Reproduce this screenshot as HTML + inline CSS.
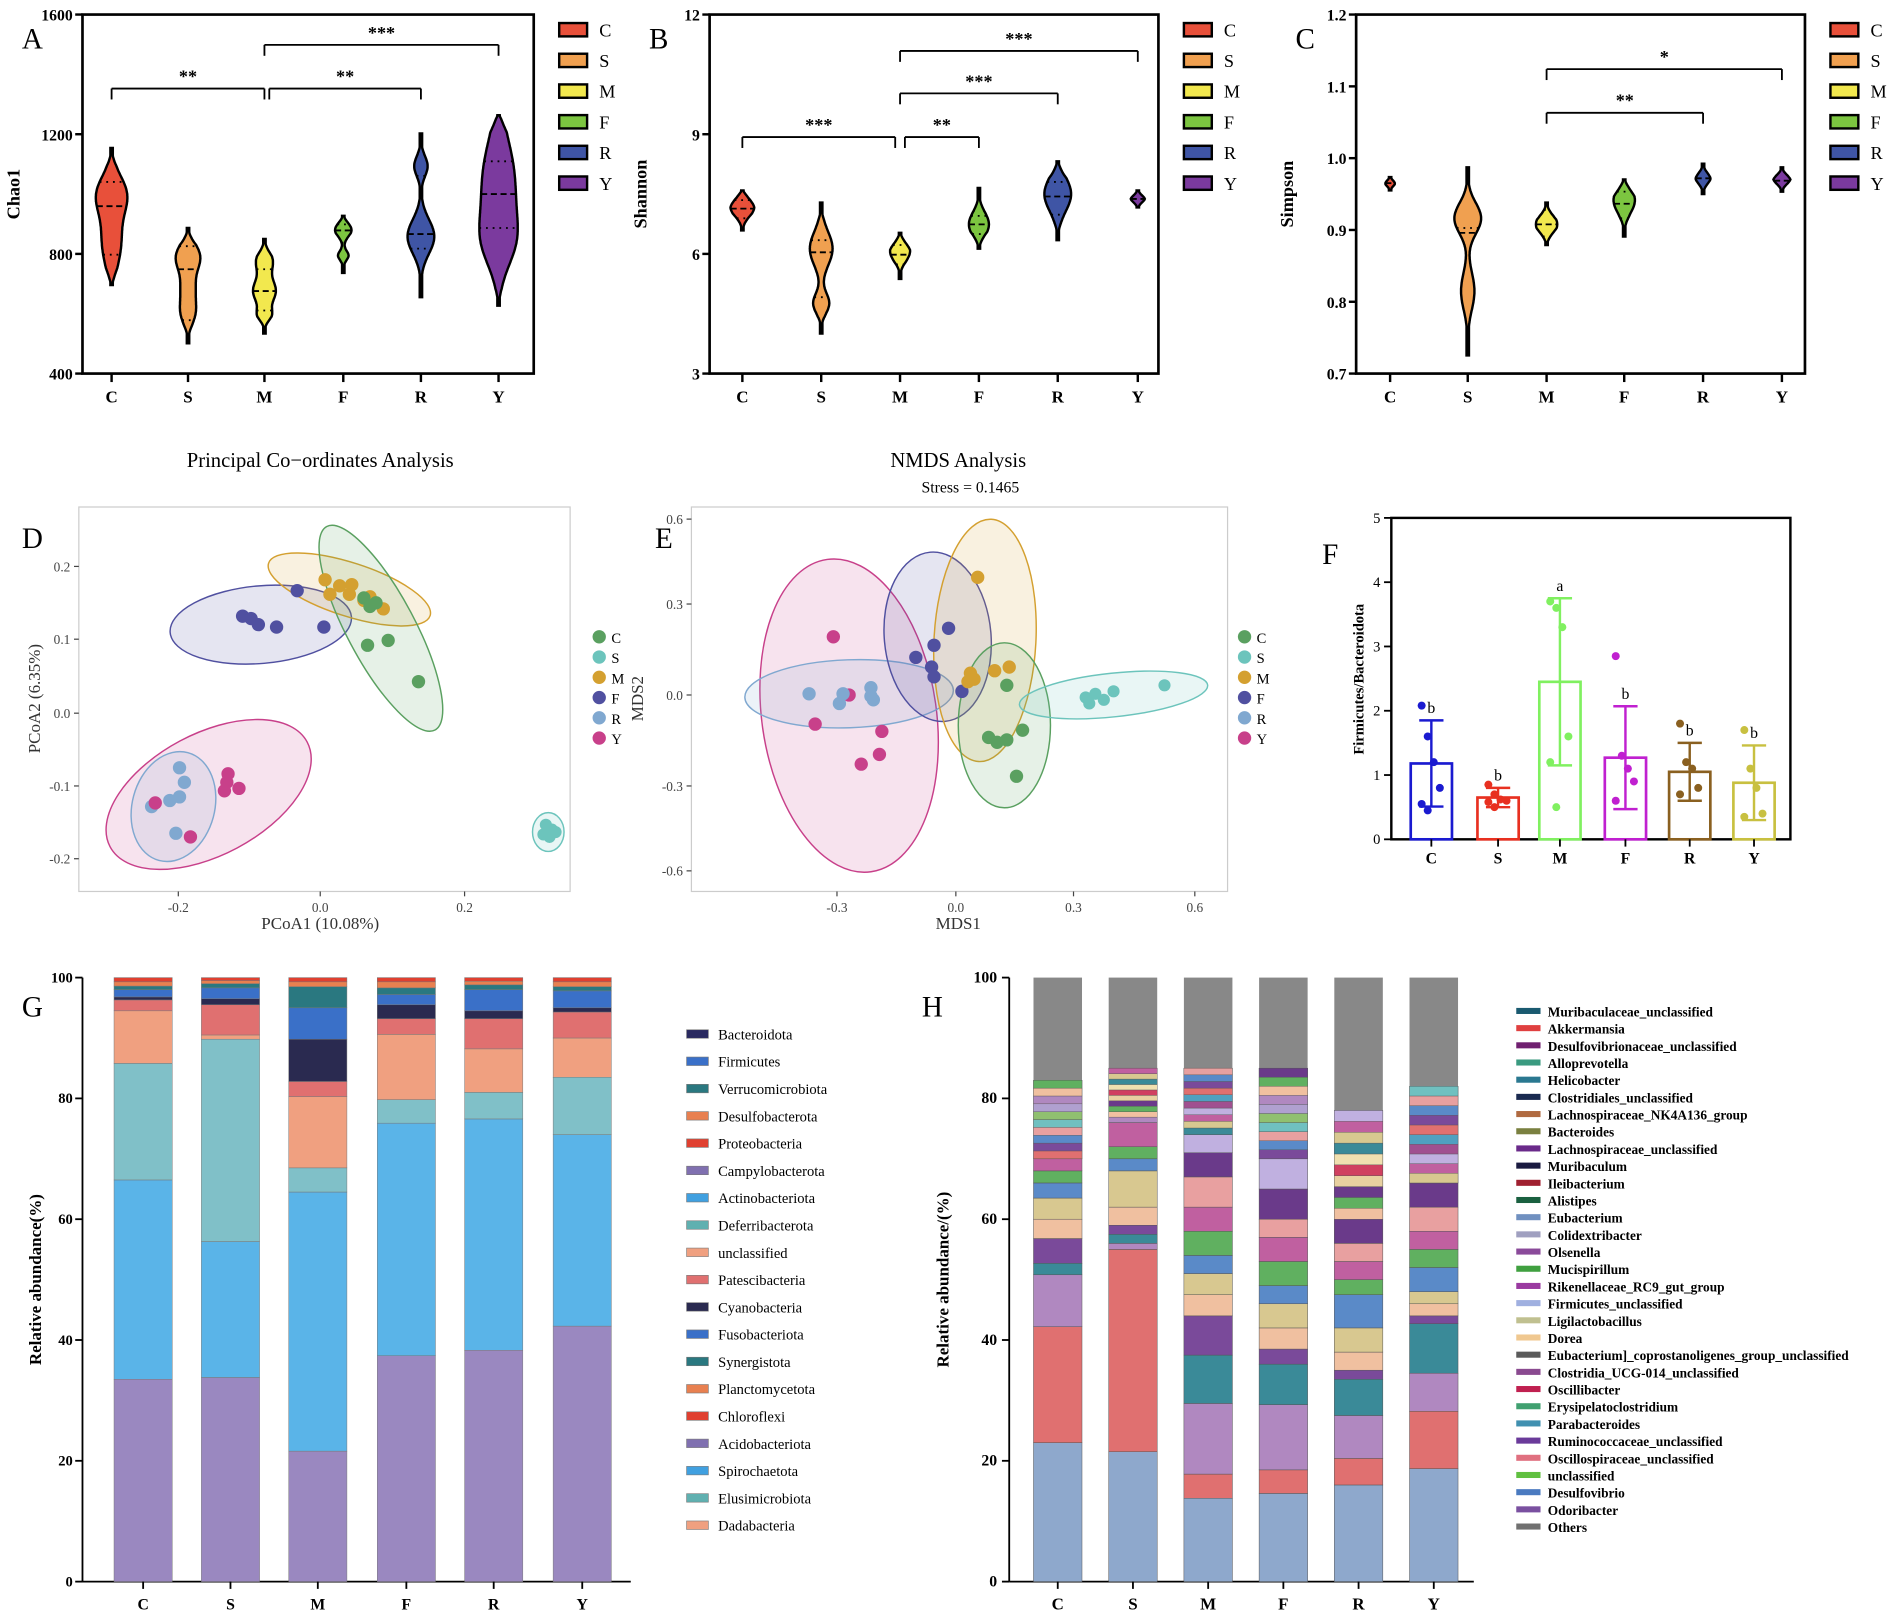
<!DOCTYPE html>
<html><head><meta charset="utf-8">
<style>
html,body{margin:0;padding:0;background:#fff;}
svg{display:block;}
text{font-family:"Liberation Serif",serif;}
</style></head>
<body>
<svg id="s" width="1902" height="1618" viewBox="0 0 1568 1334" preserveAspectRatio="none" xmlns="http://www.w3.org/2000/svg"></svg>
<script>
const S=document.getElementById('s');let out='';
function T(x,y,t,o){o=o||{};out+=`<text x="${x}" y="${y}" font-size="${o.fs||13}" ${o.b?'font-weight="bold"':''} text-anchor="${o.a||'middle'}" fill="${o.c||'#000'}" ${o.tr?`transform="${o.tr}"`:''}>${t}</text>`;}
function L(x1,y1,x2,y2,c,w,d){out+=`<line x1="${x1}" y1="${y1}" x2="${x2}" y2="${y2}" stroke="${c||'#000'}" stroke-width="${w||1}" ${d?`stroke-dasharray="${d}"`:''}/>`;}
function R(x,y,w,h,f,s,sw){out+=`<rect x="${x}" y="${y}" width="${w}" height="${h}" fill="${f}" ${s?`stroke="${s}" stroke-width="${sw||1}"`:''}/>`;}
function C(x,y,r,f){out+=`<circle cx="${x}" cy="${y}" r="${r}" fill="${f}"/>`;}
function E(cx,cy,rx,ry,rot,f,s){out+=`<ellipse cx="${cx}" cy="${cy}" rx="${rx}" ry="${ry}" transform="rotate(${rot} ${cx} ${cy})" fill="${f}" fill-opacity="0.15" stroke="${s}" stroke-width="1.2"/>`;}
const cols=['#e8503a','#f0a050','#f2e84e','#7cc540','#3f55a5','#7b3a9e'];
const grp=['C','S','M','F','R','Y'];
function violin(cx,top,bot,bumps,col,med,q1,q2){
 const hw=y=>{let w=0;for(const b of bumps)w+=0.55*b[1]*Math.exp(-Math.pow((y-b[0])/b[2],2));const e=Math.min(1,(y-top)/14,(bot-y)/14);return Math.max(w*Math.sqrt(Math.max(e,0)),1);};
 let l=[],r=[];
 for(let y=top;y<=bot;y+=1){const w=hw(y);l.push([cx-w,y]);r.push([cx+w,y]);}
 let p='M'+l.map(a=>a[0].toFixed(1)+','+a[1]).join('L')+'L'+r.reverse().map(a=>a[0].toFixed(1)+','+a[1]).join('L')+'Z';
 out+=`<path d="${p}" fill="${col}" stroke="#000" stroke-width="2"/>`;
 if(med)L(cx-hw(med),med,cx+hw(med),med,'#000',1.5,'5,3');
 for(const q of [q1,q2])if(q)L(cx-hw(q),q,cx+hw(q),q,'#000',1.5,'1.5,4');
}
function panelV(x0,x1,ticks,xs,letter,ylab,vs,br){
 R(x0,12,x1-x0,296,'none','#000',2.2);
 ticks.forEach((t,i)=>{const y=308-i*296/(ticks.length-1);L(x0-6,y,x0,y,'#000',2);T(x0-8,y+5,t,{a:'end',b:1,fs:13});});
 xs.forEach((x,i)=>{L(x,308,x,315,'#000',2);T(x,332,grp[i],{b:1,fs:14});});
 T(x0-50,40,letter,{a:'start',fs:24});
 T(x0-52,160,ylab,{b:1,fs:15,tr:`rotate(-90 ${x0-52} 160)`});
 vs.forEach((v,i)=>violin(xs[i],v[0],v[1],v[2],cols[i],v[3],v[4],v[5]));
 br.forEach(b=>{L(b[0],b[2],b[1],b[2],'#000',1.5);L(b[0],b[2],b[0],b[2]+9,'#000',1.5);L(b[1],b[2],b[1],b[2]+9,'#000',1.5);T((b[0]+b[1])/2,b[2]-5,b[3],{b:1,fs:15});});
 grp.forEach((g,i)=>{R(x1+21,19+i*25.3,23,11,cols[i],'#000',2);T(x1+54,30+i*25.3,g,{a:'start',fs:15});});
}
const xA=[92,155,218,283,347,411];
panelV(68,440,[400,800,1200,1600],xA,'A','Chao1',[
 [122,235,[[160,21,22],[200,14,30]],170,150,210],
 [188,283,[[212,18,16],[258,10,14],[238,9,15]],222,203,264],
 [197,275,[[215,12,12],[240,17,14],[260,9,8]],240,222,256],
 [178,225,[[188,14,9],[211,8,6]],190,185,200],
 [110,245,[[137,10,12],[195,20,20]],193,145,205],
 [95,252,[[150,24,50],[200,18,30]],160,133,188]
],[[92,218,73,'**'],[222,347,73,'**'],[218,411,37,'***']]);
const xB=[612,677,742,807,872,938];
panelV(585,955,[3,6,9,12],xB,'B','Shannon',[
 [157,190,[[170,18,13]],172,165,180],
 [167,275,[[205,17,20],[250,12,12]],208,198,245],
 [192,230,[[207,15,12]],210,202,218],
 [155,205,[[185,15,14]],185,178,193],
 [133,198,[[160,20,20]],162,150,177],
 [157,171,[[164,15,6]],164,0,0]
],[[612,738,113,'***'],[746,807,113,'**'],[742,872,77,'***'],[742,938,42,'***']]);
const xC=[1146,1210,1275,1339,1404,1469];
panelV(1118,1488,['0.7','0.8','0.9','1.0','1.1','1.2'],xC,'C','Simpson',[
 [146,157,[[151,12,5]],151,0,0],
 [138,293,[[180,20,18],[240,10,22]],192,188,0],
 [167,202,[[185,16,12]],185,173,195],
 [148,195,[[165,16,15]],168,158,180],
 [135,160,[[147,12,8]],147,0,0],
 [138,158,[[148,15,7]],149,0,0]
],[[1275,1404,93,'**'],[1275,1469,57,'*']]);

const dc=['#5aa060','#6cc4bc','#d4a030','#5050a0','#80a8d0','#c8408a'];
function legD(x){grp.forEach((g,i)=>{C(x,525+i*16.7,5.5,dc[i]);T(x+10,530+i*16.7,g,{a:'start',fs:12});});}
R(65,418,405,317,'none','#ccc',1);
T(264,385,'Principal Co−ordinates Analysis',{fs:17});
T(18,452,'D',{a:'start',fs:24});
[[0.2,467],[0.1,527],['0.0',588],[-0.1,648],[-0.2,708]].forEach(t=>{L(61,t[1],65,t[1],'#444');T(58,t[1]+4,t[0],{a:'end',fs:11,c:'#444'});});
[[-0.2,147],['0.0',264],[0.2,383]].forEach(t=>{L(t[1],735,t[1],739,'#444');T(t[1],752,t[0],{fs:11,c:'#444'});});
T(264,766,'PCoA1 (10.08%)',{fs:14,c:'#333'});
T(33,576,'PCoA2 (6.35%)',{fs:14,c:'#333',tr:'rotate(-90 33 576)'});
E(215,515,75,32,-5,dc[3],dc[3]);E(288,486,70,22,18,dc[2],dc[2]);E(314,518,95,28,62,dc[0],dc[0]);
E(172,655,92,50,-28,dc[5],dc[5]);E(143,665,34,46,15,dc[4],dc[4]);E(452,686,13,16,0,dc[1],dc[1]);
[[200,508],[207,510],[213,515],[245,487],[228,517],[267,517]].forEach(p=>C(p[0],p[1],5.5,dc[3]));
[[268,478],[272,490],[280,483],[290,482],[300,495],[305,492],[316,502],[288,490]].forEach(p=>C(p[0],p[1],5.5,dc[2]));
[[300,493],[305,500],[310,497],[303,532],[320,528],[345,562]].forEach(p=>C(p[0],p[1],5.5,dc[0]));
[[148,633],[152,645],[148,657],[140,660],[125,665],[145,687]].forEach(p=>C(p[0],p[1],5.5,dc[4]));
[[188,638],[187,645],[197,650],[185,652],[128,662],[157,690]].forEach(p=>C(p[0],p[1],5.5,dc[5]));
[[450,680],[455,684],[448,688],[453,690],[458,686]].forEach(p=>C(p[0],p[1],5,dc[1]));
legD(494);
R(570,418,442,317,'none','#ccc',1);
T(790,385,'NMDS Analysis',{fs:17});T(800,406,'Stress = 0.1465',{fs:13});
T(540,452,'E',{a:'start',fs:24});
[['0.6',428],['0.3',498],['0.0',573],['-0.3',648],['-0.6',718]].forEach(t=>{L(566,t[1],570,t[1],'#444');T(563,t[1]+4,t[0],{a:'end',fs:11,c:'#444'});});
[['-0.3',690],['0.0',788],['0.3',885],['0.6',985]].forEach(t=>{L(t[1],735,t[1],739,'#444');T(t[1],752,t[0],{fs:11,c:'#444'});});
T(790,766,'MDS1',{fs:14,c:'#333'});T(530,576,'MDS2',{fs:14,c:'#333',tr:'rotate(-90 530 576)'});
E(700,590,72,130,-8,dc[5],dc[5]);E(700,572,86,28,-2,dc[4],dc[4]);E(773,525,44,70,-5,dc[3],dc[3]);
E(812,528,42,100,3,dc[2],dc[2]);E(828,598,38,68,0,dc[0],dc[0]);E(918,573,78,18,-6,dc[1],dc[1]);
[[687,525],[700,573],[672,597],[727,603],[725,622],[710,630]].forEach(p=>C(p[0],p[1],5.5,dc[5]));
[[667,572],[695,572],[718,567],[720,577],[692,580],[718,574]].forEach(p=>C(p[0],p[1],5.5,dc[4]));
[[755,542],[770,532],[768,550],[770,558],[782,518],[793,570]].forEach(p=>C(p[0],p[1],5.5,dc[3]));
[[806,476],[800,555],[803,560],[820,553],[832,550],[798,562]].forEach(p=>C(p[0],p[1],5.5,dc[2]));
[[830,565],[815,608],[822,612],[830,610],[843,602],[838,640]].forEach(p=>C(p[0],p[1],5.5,dc[0]));
[[895,575],[903,572],[910,577],[918,570],[960,565],[898,580]].forEach(p=>C(p[0],p[1],5,dc[1]));
legD(1026);
const fc=['#1a1ad0','#e83020','#80f060','#c020d0','#8a6020','#c8c040'];
R(1147,427,329,265,'none','#000',2);
for(let i=0;i<=5;i++){const y=692-i*53;L(1141,y,1147,y,'#000',1.5);T(1138,y+4,i,{a:'end',fs:12});}
T(1090,465,'F',{a:'start',fs:24});
T(1124,560,'Firmicutes/Bacteroidota',{b:1,fs:12,tr:'rotate(-90 1124 560)'});
const fx=[1180,1235,1286,1340,1393,1446],fv=[1.18,0.65,2.45,1.27,1.05,0.88],fe=[0.67,0.15,1.3,0.8,0.45,0.58],fl=['b','b','a','b','b','b'];
const pts=[[2.08,1.6,1.2,0.8,0.55,0.45],[0.85,0.7,0.62,0.6,0.58,0.5],[3.7,3.6,3.3,1.6,1.2,0.5],[2.85,1.3,1.1,0.9,0.6],[1.8,1.2,1.1,0.8,0.7],[1.7,1.1,0.8,0.4,0.35]];
fx.forEach((x,i)=>{const y=692-fv[i]*53;R(x-17,y,34,692-y,'none',fc[i],2.2);
 const yt=692-(fv[i]+fe[i])*53,yb=692-(fv[i]-fe[i])*53;L(x,yt,x,yb,fc[i],2);L(x-10,yt,x+10,yt,fc[i],2);L(x-10,yb,x+10,yb,fc[i],2);
 pts[i].forEach((v,j)=>C(x-8+(j%4)*5,692-v*53,3.3,fc[i]));
 T(x,yt-6,fl[i],{fs:13});
 L(x,692,x,698,'#000',1.5);T(x,712,grp[i],{b:1,fs:13});});
L(68,806,68,1304,'#000',1.5);L(68,1304,520,1304,'#000',1.5);
T(18,838,'G',{a:'start',fs:24});
for(let i=0;i<=5;i++){const y=1304-i*99.6;L(62,y,68,y,'#000',1.5);T(60,y+4,i*20,{a:'end',b:1,fs:12});}
T(34,1055,'Relative abundance(%)',{b:1,fs:14,tr:'rotate(-90 34 1055)'});
const gcol=['#9a88c0','#5ab4e8','#80c0c8','#f0a080','#e07070','#2a2a50','#3a70c8','#2a7880','#e88050','#e04030','#9080c0','#40a0e0','#60b0b0','#f0a070'];
const gx=[118,190,262,335,407,480];
const gs=[[33.5,66.5,85.8,94.5,96.3,96.8,98,98.6,99.3,100],
[33.8,56.3,89.8,90.5,95.5,96.5,98.3,99,99.5,100],
[21.6,64.5,68.5,80.3,82.8,89.8,95,98.5,99.3,100],
[37.4,75.9,79.8,90.6,93.2,95.5,97.2,98.3,99.3,100],
[38.3,76.6,81,88.2,93.2,94.5,98,98.8,99.4,100],
[42.3,74,83.5,90,94.3,95,97.8,98.5,99.3,100]];
gx.forEach((x,i)=>{let p=0;gs[i].forEach((v,j)=>{R(x-24,1304-v*4.98,48,(v-p)*4.98,gcol[j],'#777',0.4);p=v;});L(x,1304,x,1310,'#000',1.5);T(x,1327,grp[i],{b:1,fs:13});});
const gl=['Bacteroidota','Firmicutes','Verrucomicrobiota','Desulfobacterota','Proteobacteria','Campylobacterota','Actinobacteriota','Deferribacterota','unclassified','Patescibacteria','Cyanobacteria','Fusobacteriota','Synergistota','Planctomycetota','Chloroflexi','Acidobacteriota','Spirochaetota','Elusimicrobiota','Dadabacteria'];
const glc=['#2a2a60','#3a70c8','#2a7880','#e88050','#e04030','#8070b0','#40a0e0','#60b0b0','#f0a080','#e07070','#2a2a50','#3a70c8','#2a7880','#e88050','#e04030','#8070b0','#40a0e0','#60b0b0','#f0a080'];
gl.forEach((t,i)=>{const y=853+i*22.5;R(566,y-4,18,7,glc[i],'#777',0.5);T(592,y+4,t,{a:'start',fs:12});});
L(832,806,832,1304,'#000',1.5);L(832,1304,1215,1304,'#000',1.5);
T(760,838,'H',{a:'start',fs:24});
for(let i=0;i<=5;i++){const y=1304-i*99.6;L(826,y,832,y,'#000',1.5);T(822,y+4,i*20,{a:'end',b:1,fs:13});}
T(782,1055,'Relative abundance/(%)',{b:1,fs:14,tr:'rotate(-90 782 1055)'});
const hx=[872,934,996,1058,1120,1182];
const hpal=['#e07070','#b088c0','#3a8a98','#7a4a9a','#f0c0a0','#d8c890','#5a8ac8','#60b060','#c060a0','#e8a0a0','#6a3a8a','#c0b0e0','#70c0c0','#e8d0a0','#a05090','#90c070','#d04060','#50a0c0','#b0a0d0','#f0e0b0'];
const hs=[[23,42.2,50.8,52.7,56.8,60,63.5,66,68,70,83],
[21.5,55,56,57.5,59,62,68,70,72,76,85],
[13.8,17.8,29.5,37.5,44,47.5,51,54,58,62,67,71,74,85],
[14.6,18.5,29.3,36,38.5,42,46,49,53,57,60,65,70,85],
[16,20.4,27.5,33.5,35,38,42,47.5,50,53,56,60,78],
[18.7,28.2,34.5,42.7,44,46,48,52,55,58,62,66,82]];
hx.forEach((x,i)=>{R(x-20,806,40,498,'#888888');let p=0;const a=hs[i];
 a.forEach((v,j)=>{let c=j==0?'#8ea8cc':hpal[(j-1)%hpal.length];R(x-20,1304-v*4.98,40,(v-p)*4.98,c,'#555',0.4);p=v;});
 const top=a[a.length-1],st=a[a.length-2];for(let k=0;k<10;k++){const y0=st+(top-st)*k/10;R(x-20,1304-(y0+(top-st)/10)*4.98,40,(top-st)/10*4.98,hpal[(k*3+i)%hpal.length],'#555',0.3);}
 L(x,1304,x,1310,'#000',1.5);T(x,1327,grp[i],{b:1,fs:14});});
const hl=['Muribaculaceae_unclassified','Akkermansia','Desulfovibrionaceae_unclassified','Alloprevotella','Helicobacter','Clostridiales_unclassified','Lachnospiraceae_NK4A136_group','Bacteroides','Lachnospiraceae_unclassified','Muribaculum','Ileibacterium','Alistipes','Eubacterium','Colidextribacter','Olsenella','Mucispirillum','Rikenellaceae_RC9_gut_group','Firmicutes_unclassified','Ligilactobacillus','Dorea','Eubacterium]_coprostanoligenes_group_unclassified','Clostridia_UCG-014_unclassified','Oscillibacter','Erysipelatoclostridium','Parabacteroides','Ruminococcaceae_unclassified','Oscillospiraceae_unclassified','unclassified','Desulfovibrio','Odoribacter','Others'];
const hlc=['#1a5a70','#e04040','#702070','#3a9a80','#2a7890','#1a2a50','#b06a40','#7a8040','#6a2a8a','#1a1a40','#a02030','#1a6040','#7090c0','#a0a0c0','#8a4a9a','#40a040','#9a3aa0','#a0b0e0','#c0c090','#f0c890','#5a5a5a','#8a4a90','#c02050','#40a070','#4090b0','#6a3a9a','#e07080','#60c040','#4a7ac0','#7a50a0','#707070'];
hl.forEach((t,i)=>{const y=834+i*14.17;R(1250,y-3,20,5,hlc[i]);T(1276,y+4,t,{a:'start',b:1,fs:11});});
S.innerHTML=out;
</script>
</body></html>
